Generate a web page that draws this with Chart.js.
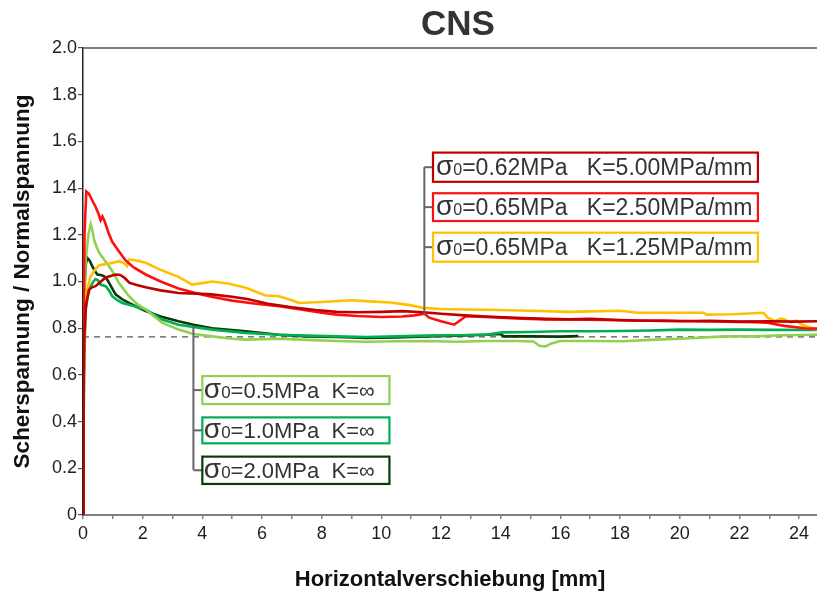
<!DOCTYPE html>
<html>
<head>
<meta charset="utf-8">
<script src="https://cdn.jsdelivr.net/npm/chart.js@4.4.1/dist/chart.umd.min.js"></script>
<style>
html,body{margin:0;padding:0;background:#fff;}
#wrap{width:817px;height:596px;position:relative;}
</style>
</head>
<body>
<div id="wrap"><canvas id="c" width="817" height="596"></canvas></div>
<script>
// ---- data ----
const titleText = 'CNS';
const xAxisTitle = 'Horizontalverschiebung [mm]';
const yAxisTitle = 'Scherspannung / Normalspannung';

const seriesLabels = [
  'σ0=0.62MPa   K=5.00MPa/mm',
  'σ0=0.65MPa   K=2.50MPa/mm',
  'σ0=0.65MPa   K=1.25MPa/mm',
  'σ0=0.5MPa  K=∞',
  'σ0=1.0MPa  K=∞',
  'σ0=2.0MPa  K=∞'
];

const darkRedX = [0,0.02,0.05,0.1,0.2,0.3,0.42,0.6,0.76,0.95,1.1,1.25,1.4,1.55,1.8,2.1,2.6,3.2,3.8,4.3,5.0,5.5,6.2,7.0,7.8,8.5,9.2,10.0,10.7,11.4,12.0,12.8,13.5,14.5,15.5,16.3,17.0,18.0,19.0,20.0,21.0,22.0,23.0,23.8,24.6];
const darkRedY = [0,0.55,0.78,0.9,0.965,0.975,0.98,1.0,1.017,1.025,1.03,1.028,1.015,0.995,0.985,0.975,0.962,0.951,0.948,0.945,0.935,0.925,0.905,0.89,0.878,0.87,0.868,0.87,0.873,0.868,0.862,0.855,0.85,0.845,0.84,0.838,0.84,0.835,0.832,0.83,0.832,0.828,0.83,0.828,0.83];

const redX = [0,0.02,0.05,0.11,0.2,0.3,0.42,0.52,0.59,0.65,0.72,0.85,0.98,1.2,1.43,1.7,2.1,2.6,3.2,3.8,4.3,5.0,5.8,6.57,7.3,8.0,8.5,9.2,10.0,10.7,11.1,11.45,11.6,12.0,12.44,12.6,12.83,13.5,14.5,15.5,16.3,17.5,18.5,19.5,20.5,21.5,22.5,22.9,23.5,24.2,24.6];
const redY = [0,0.8,1.2,1.385,1.375,1.35,1.32,1.29,1.262,1.278,1.26,1.21,1.17,1.13,1.09,1.06,1.03,1.0,0.97,0.95,0.935,0.918,0.905,0.894,0.88,0.866,0.858,0.852,0.848,0.85,0.855,0.862,0.845,0.83,0.815,0.83,0.851,0.848,0.842,0.838,0.837,0.835,0.832,0.833,0.83,0.828,0.826,0.824,0.81,0.80,0.798];

const orangeX = [0,0.02,0.05,0.09,0.15,0.25,0.4,0.54,0.8,1.0,1.2,1.35,1.48,1.54,1.8,2.1,2.6,3.2,3.66,4.0,4.33,4.9,5.45,6.12,6.57,7.0,7.24,8.0,9.0,9.6,10.3,10.9,11.4,12.0,12.9,14.0,15.0,16.3,17.0,18.0,18.6,19.5,20.8,20.9,21.8,22.8,22.95,23.2,23.35,23.5,23.7,23.9,24.1,24.45,24.6];
const orangeY = [0,0.45,0.75,0.92,0.97,1.02,1.05,1.07,1.075,1.08,1.087,1.08,1.066,1.094,1.09,1.08,1.05,1.02,0.987,0.993,1.0,0.99,0.973,0.94,0.937,0.92,0.908,0.912,0.92,0.915,0.91,0.9,0.887,0.882,0.88,0.878,0.875,0.87,0.872,0.875,0.866,0.866,0.866,0.858,0.86,0.866,0.845,0.83,0.84,0.838,0.825,0.832,0.815,0.80,0.795];

const lightGreenX = [0,0.02,0.05,0.09,0.18,0.26,0.32,0.37,0.45,0.54,0.7,0.87,1.0,1.2,1.54,1.8,2.1,2.65,3.2,3.7,4.33,5.0,5.45,6.57,7.5,8.5,9.5,10.5,11.5,12.5,13.5,14.5,15.1,15.3,15.5,15.7,16.0,17.0,18.1,19.0,20.0,21.5,22.5,23.5,24.6];
const lightGreenY = [0,0.6,0.9,1.09,1.2,1.245,1.215,1.18,1.15,1.124,1.095,1.066,1.04,0.995,0.937,0.905,0.88,0.824,0.794,0.775,0.765,0.755,0.751,0.755,0.75,0.745,0.742,0.744,0.745,0.742,0.745,0.745,0.743,0.725,0.722,0.735,0.745,0.745,0.744,0.75,0.755,0.765,0.765,0.77,0.772];

const greenX = [0,0.02,0.05,0.09,0.18,0.26,0.35,0.42,0.5,0.59,0.76,0.88,0.98,1.15,1.32,1.7,2.1,2.65,3.2,3.7,4.33,5.45,6.57,7.5,8.5,9.5,10.5,11.5,12.5,13.5,14.05,15,16,17,18,19,20,21,22,23,24.6];
const greenY = [0,0.4,0.7,0.88,0.95,0.98,1.0,1.01,1.005,0.987,0.98,0.96,0.937,0.92,0.908,0.895,0.88,0.837,0.815,0.805,0.794,0.78,0.772,0.768,0.765,0.762,0.765,0.768,0.77,0.772,0.782,0.784,0.787,0.787,0.788,0.79,0.794,0.793,0.794,0.793,0.792];

const darkGreenX = [0,0.02,0.05,0.1,0.15,0.22,0.31,0.4,0.48,0.6,0.7,0.8,0.87,1.0,1.1,1.3,1.54,2.1,2.6,3.2,3.7,4.33,5.45,6.57,7.5,8.5,9.5,10.5,11.5,12.5,13.5,14.0,14.1,15,16,16.6];
const darkGreenY = [0,0.7,0.98,1.08,1.1,1.09,1.066,1.045,1.03,1.028,1.023,1.01,0.995,0.965,0.944,0.925,0.908,0.873,0.85,0.83,0.815,0.80,0.787,0.772,0.765,0.762,0.758,0.76,0.765,0.768,0.772,0.775,0.765,0.765,0.764,0.766];

const refLevel = 0.763;
const xMin = 0, xMax = 24.6;
const yMin = 0, yMax = 2.0;

// ---- styles ----
const colors = ['#c00000','#ff1010','#ffc000','#92d050','#00b050','#0a3a0a'];
const FONT = '"Liberation Sans", Arial, Helvetica, sans-serif';

const seriesX = [darkRedX, redX, orangeX, lightGreenX, greenX, darkGreenX];
const seriesY = [darkRedY, redY, orangeY, lightGreenY, greenY, darkGreenY];

const datasets = seriesX.map((xs, i) => ({
  label: seriesLabels[i],
  data: xs.map((x, j) => ({x: x, y: seriesY[i][j]})),
  borderColor: colors[i],
  borderWidth: 2.6,
  pointRadius: 0,
  showLine: true,
  tension: 0,
  fill: false
}));
datasets.push({
  label: 'ref',
  data: [{x: xMin, y: refLevel}, {x: xMax, y: refLevel}],
  borderColor: '#555',
  borderWidth: 1.3,
  borderDash: [6, 5],
  pointRadius: 0,
  showLine: true
});

// annotation groups (data coordinates)
const groups = [
  {lineX: 11.44, lineTopY: 1.490, anchorY: 0.857,
   boxes: [{i:0, x1:11.73, x2:22.62, y1:1.552, y2:1.427},
           {i:1, x1:11.73, x2:22.62, y1:1.378, y2:1.259},
           {i:2, x1:11.73, x2:22.62, y1:1.209, y2:1.085}],
   fontSize: 23, sigmaSize: 28, subSize: 16, baseOff: 6.5, textOff: 3},
  {lineX: 3.70, lineTopY: 0.806, anchorY: 0.193,
   boxes: [{i:3, x1:4.0, x2:10.27, y1:0.595, y2:0.475},
           {i:4, x1:4.0, x2:10.27, y1:0.418, y2:0.307},
           {i:5, x1:4.0, x2:10.27, y1:0.250, y2:0.133}],
   fontSize: 22, sigmaSize: 28, subSize: 17, baseOff: 5.8, textOff: 1.5}
];

const decorPlugin = {
  id: 'decor',
  afterDraw(chart) {
    const ctx = chart.ctx, xs = chart.scales.x, ys = chart.scales.y, ca = chart.chartArea;
    ctx.save();
    ctx.strokeStyle = '#808080'; ctx.lineWidth = 2;
    ctx.beginPath(); ctx.moveTo(ca.left, ca.top); ctx.lineTo(ca.right, ca.top); ctx.stroke();
    ctx.fillStyle = '#333'; ctx.font = 'bold 35px ' + FONT;
    ctx.textAlign = 'center'; ctx.textBaseline = 'middle';
    ctx.fillText(titleText, 458, 25);

    groups.forEach(g => {
      const lx = xs.getPixelForValue(g.lineX);
      ctx.strokeStyle = '#666'; ctx.lineWidth = 2;
      ctx.beginPath();
      const ys1 = ys.getPixelForValue(g.lineTopY), ys2 = ys.getPixelForValue(g.anchorY);
      ctx.moveTo(lx, Math.min(ys1, ys2)); ctx.lineTo(lx, Math.max(ys1, ys2));
      ctx.stroke();
      g.boxes.forEach(b => {
        const x1 = xs.getPixelForValue(b.x1), x2 = xs.getPixelForValue(b.x2);
        const y1 = ys.getPixelForValue(b.y1), y2 = ys.getPixelForValue(b.y2);
        const cy = (y1 + y2) / 2;
        ctx.strokeStyle = '#666'; ctx.lineWidth = 2;
        ctx.beginPath(); ctx.moveTo(lx, cy); ctx.lineTo(x1, cy); ctx.stroke();
        ctx.fillStyle = '#fff';
        ctx.fillRect(x1, y1, x2 - x1, y2 - y1);
        ctx.strokeStyle = colors[b.i]; ctx.lineWidth = 2.2;
        ctx.strokeRect(x1, y1, x2 - x1, y2 - y1);
        const label = seriesLabels[b.i];
        const rest = label.slice(2);
        const base = y2 - g.baseOff;
        let tx = x1 + g.textOff;
        ctx.fillStyle = '#333'; ctx.textAlign = 'left'; ctx.textBaseline = 'alphabetic';
        ctx.font = g.sigmaSize + 'px ' + FONT;
        ctx.fillText('σ', tx, base); tx += ctx.measureText('σ').width;
        ctx.font = g.subSize + 'px ' + FONT;
        ctx.fillText('0', tx, base); tx += ctx.measureText('0').width;
        ctx.font = g.fontSize + 'px ' + FONT;
        ctx.fillText(rest, tx, base);
      });
    });
    ctx.restore();
  }
};

new Chart(document.getElementById('c'), {
  type: 'scatter',
  data: {datasets},
  options: {
    responsive: false,
    animation: false,
    layout: {padding: {top: 48, right: 0, left: 0, bottom: 0}},
    plugins: {legend: {display: false}, tooltip: {enabled: false}, title: {display: false}},
    scales: {
      x: {
        type: 'linear', min: xMin, max: xMax,
        afterFit(s) { s.height = 81; },
        border: {color: '#808080', width: 2},
        grid: {drawOnChartArea: false, drawTicks: true, tickLength: 4, color: '#808080', lineWidth: 1.5},
        ticks: {stepSize: 1, includeBounds: false, autoSkip: false, maxRotation: 0, padding: 4,
          color: '#222', font: {family: FONT, size: 18},
          callback: v => (Math.round(v) % 2 === 0 ? String(Math.round(v)) : '')},
        title: {display: true, text: xAxisTitle, color: '#111',
          font: {family: FONT, size: 22, weight: 'bold'}, padding: {top: 0, bottom: 3}}
      },
      y: {
        type: 'linear', min: yMin, max: yMax,
        afterFit(s) { s.width = 83; },
        border: {color: '#222', width: 1.5},
        grid: {drawOnChartArea: false, drawTicks: true, tickLength: 5, color: '#555', lineWidth: 1.2},
        ticks: {stepSize: 0.2, padding: 1, color: '#222', font: {family: FONT, size: 18},
          callback: v => (Math.abs(v) < 1e-9 ? '0' : v.toFixed(1))},
        title: {display: true, text: yAxisTitle, color: '#111',
          font: {family: FONT, size: 22.5, weight: 'bold'}, padding: {top: 9, bottom: 0}}
      }
    }
  },
  plugins: [decorPlugin]
});
</script>
</body>
</html>
